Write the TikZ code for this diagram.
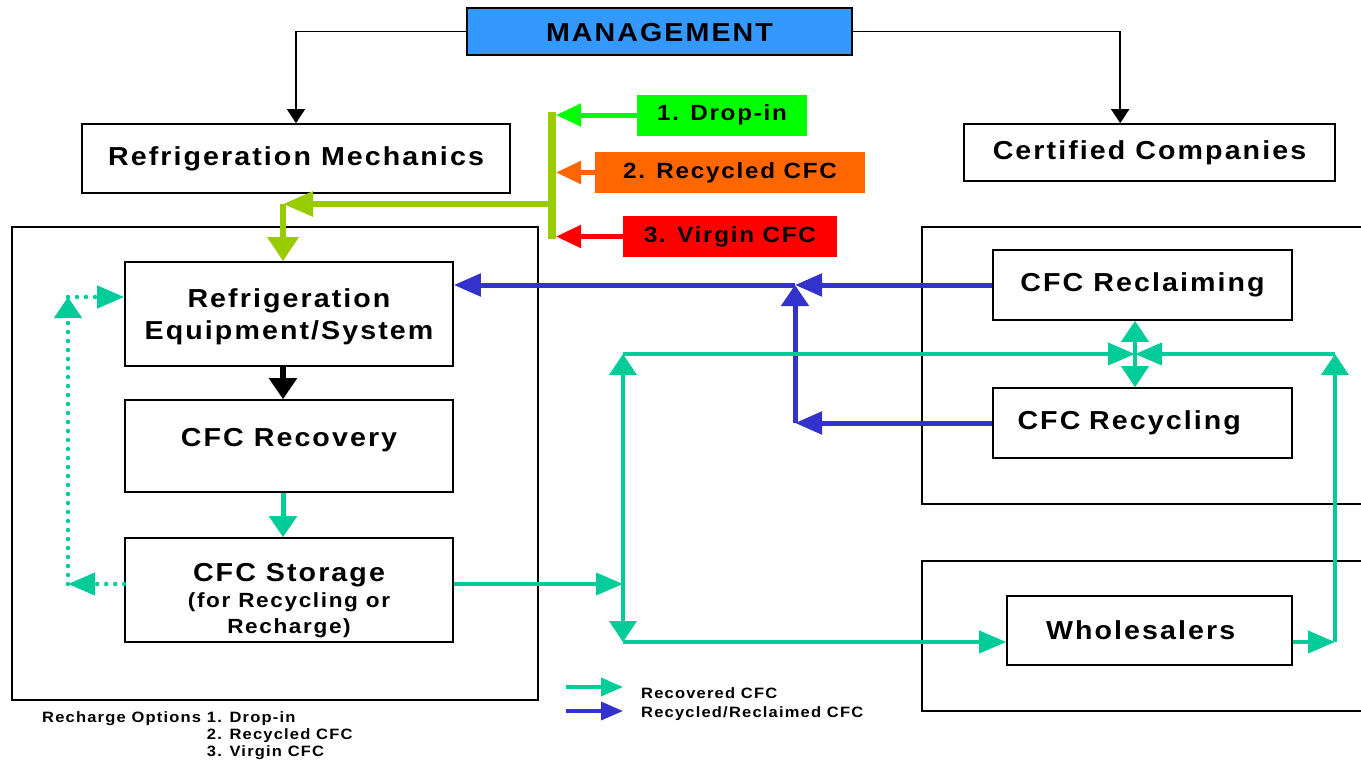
\documentclass[tikz,border=0pt]{standalone}
\usepackage{fontspec}
\setmainfont{Liberation Sans}[FakeStretch=1.1,LetterSpace=8]
\usetikzlibrary{arrows.meta,positioning}

\definecolor{mgmtblue}{HTML}{3399FF}
\definecolor{dropgreen}{HTML}{00FF00}
\definecolor{recycorange}{HTML}{FF6600}
\definecolor{virginred}{HTML}{FF0000}
\definecolor{feedolive}{HTML}{99CC00}
\definecolor{rcvteal}{HTML}{00CC99}
\definecolor{rcyblue}{HTML}{3333CC}

\newcommand{\boxfont}{\bfseries\fontsize{26}{32}\selectfont}
\newcommand{\optfont}{\bfseries\fontsize{22}{26}\selectfont}
\newcommand{\subfont}{\bfseries\fontsize{20.5}{26}\selectfont}
\newcommand{\keyfont}{\bfseries\fontsize{15}{17}\selectfont}

\begin{document}
\begin{tikzpicture}[x=1pt,y=-1pt,
        box/.style={draw,line width=1.6pt,inner sep=0pt,align=center,font=\boxfont},
        optbox/.style={inner sep=0pt,minimum height=41pt,font=\optfont},
        zone/.style={line width=1.6pt},
        hh/.style={-{Triangle[length=27pt,width=22pt]}},
        vh/.style={-{Triangle[length=21pt,width=27pt]}},
        vvh/.style={{Triangle[length=21pt,width=27pt]}-{Triangle[length=21pt,width=27pt]}},
        rcv/.style={rcvteal,line width=4pt},
        rcy/.style={rcyblue,line width=5pt},
        dots/.style={rcvteal,line width=4.5pt,line cap=round,dash pattern=on 0pt off 9pt}]

                \useasboundingbox (0,0) rectangle (1361,763);

                \draw[zone] (12,227) rectangle (538,700);

                \draw[zone] (1361,227) -- (922,227) -- (922,504) -- (1361,504);

                \draw[zone] (1361,561) -- (922,561) -- (922,711) -- (1361,711);

                

                \node[box,fill=mgmtblue,line width=2pt,minimum width=385pt,minimum height=47pt,text height=21pt,text depth=2pt] (mgmt) at (659.5,31.5) {MANAGEMENT};

                \node[box,minimum width=428pt,minimum height=69pt] (mech) at (296,158.5) {Refrigeration Mechanics};

                \node[box,minimum width=371pt,minimum height=57pt] (cert) at (1149.5,152.5) {Certified Companies};

                

                \node[optbox,fill=dropgreen,minimum width=170pt] (drop) at (722,115) {1. Drop-in};

                \node[optbox,fill=recycorange,minimum width=270pt] (recyc) at (730,172.5) {2. Recycled CFC};

                \node[optbox,fill=virginred,minimum width=214pt] (virgin) at (730,236.5) {3. Virgin CFC};

                

                \node[box,minimum width=328pt,minimum height=104pt] (equip) at (289,314) {\rule{0pt}{25pt}Refrigeration\\Equipment/System};

                \node[box,minimum width=328pt,minimum height=92pt,text height=19pt,text depth=19pt] (recov) at (289,446) {CFC Recovery};

                \node[box,minimum width=328pt,minimum height=104pt,font=\bfseries\fontsize{26}{26}\selectfont] (store) at (289,590)
                    {\rule{0pt}{40pt}CFC Storage\\\subfont(for Recycling or\\\subfont Recharge)};

                

                \node[box,minimum width=299pt,minimum height=70pt] (reclaim) at (1142.5,285) {CFC Reclaiming};

                \node[box,minimum width=299pt,minimum height=70pt,text width=250pt,align=left] (recycle) at (1142.5,423) {CFC Recycling};

                \node[box,minimum width=285pt,minimum height=69pt,text width=207pt,align=left] (whole) at (1149.5,630.5) {Wholesalers};

                

                \node[anchor=base west,inner sep=0pt,font=\keyfont] (keyrcv) at (641,698) {Recovered CFC};

                \node[anchor=base west,inner sep=0pt,font=\keyfont] (keyrcy) at (641,717) {Recycled/Reclaimed CFC};

                \node[anchor=base west,inner sep=0pt,font=\keyfont] (rechopts) at (42,722)
                    {\begin{tabular}[t]{@{}l@{ }l@{}}Recharge Options & 1. Drop-in\\ & 2. Recycled CFC\\ & 3. Virgin CFC\end{tabular}};

                

                \coordinate (bar) at (556,0);

                \coordinate (bartop) at (552,112);

                \coordinate (barbot) at (552,239);

                \coordinate (feed) at (552,204);

                \coordinate (corner) at (283,204);

                \coordinate (dottop) at (68,297);

                \coordinate (dotbot) at (68,584);

                \coordinate (lefttop) at (623,354);

                \coordinate (leftbot) at (623,642);

                \coordinate (hub) at (1135,354);

                \coordinate (righttop) at (1335,354);

                \coordinate (rightbot) at (1335,642);

                \coordinate (bluehub) at (795,285);

                \coordinate (bluebot) at (795,423);

                

                \draw[line width=1.5pt,-{Triangle[length=14pt,width=18pt]}] (mgmt.west) -| (mech.north);

                \draw[line width=1.5pt,-{Triangle[length=14pt,width=18pt]}] (mgmt.east) -| ([xshift=157pt]cert.north west);

                

                \draw[feedolive,line width=8pt] (bartop) -- (barbot);

                \foreach \opt/\col in {drop/dropgreen, recyc/recycorange, virgin/virginred}
                    {
                    \draw[\col,line width=5pt,-{Triangle[length=25pt,width=22pt]}] (\opt.west) -- (\opt.west -| bar);
                    }

                \draw[feedolive,line width=6pt,-{Triangle[length=30pt,width=24pt]}] (feed) -- (corner);

                \draw[feedolive,line width=6pt,-{Triangle[length=24pt,width=30pt]}] (corner) -- (corner |- equip.north);

                

                \draw[line width=6pt,vh] (equip.south -| corner) -- (recov.north -| corner);

                \draw[rcvteal,line width=5pt,vh] (recov.south -| corner) -- (store.north -| corner);

                

                \draw[dots,hh] (dotbot -| store.west) -- (dotbot);

                \draw[dots,vh] (dotbot) -- (dottop);

                \draw[dots,hh] (dottop) -- (dottop -| equip.west);

                

                \draw[rcy,hh] (reclaim.west) -- (bluehub);

                \draw[rcy,hh] (bluehub) -- (bluehub -| equip.east);

                \draw[rcy,hh] (recycle.west) -- (bluebot);

                \draw[rcy,vh] (bluebot) -- (bluehub);

                

                \draw[rcv,hh] (dotbot -| store.east) -- (dotbot -| lefttop);

                \draw[rcv,vvh] (lefttop) -- (leftbot);

                \draw[rcv,hh] (lefttop) -- (hub);

                \draw[rcv,hh] (righttop) -- (hub);

                \draw[rcv,vvh] (hub |- reclaim.south) -- (hub |- recycle.north);

                \draw[rcv,hh] (leftbot) -- (leftbot -| whole.west);

                \draw[rcv,hh] (leftbot -| whole.east) -- (rightbot);

                \draw[rcv,vh] (rightbot) -- (righttop);

                

                \coordinate (keyrcvfrom) at (566,687);

                \coordinate (keyrcvto) at (623,687);

                \coordinate (keyrcyfrom) at (566,711);

                \coordinate (keyrcyto) at (623,711);

                \draw[rcvteal,line width=3.5pt,-{Triangle[length=22pt,width=18pt]}] (keyrcvfrom) -- (keyrcvto);

                \draw[rcyblue,line width=3.5pt,-{Triangle[length=22pt,width=18pt]}] (keyrcyfrom) -- (keyrcyto);

            \end{tikzpicture}
\end{document}
